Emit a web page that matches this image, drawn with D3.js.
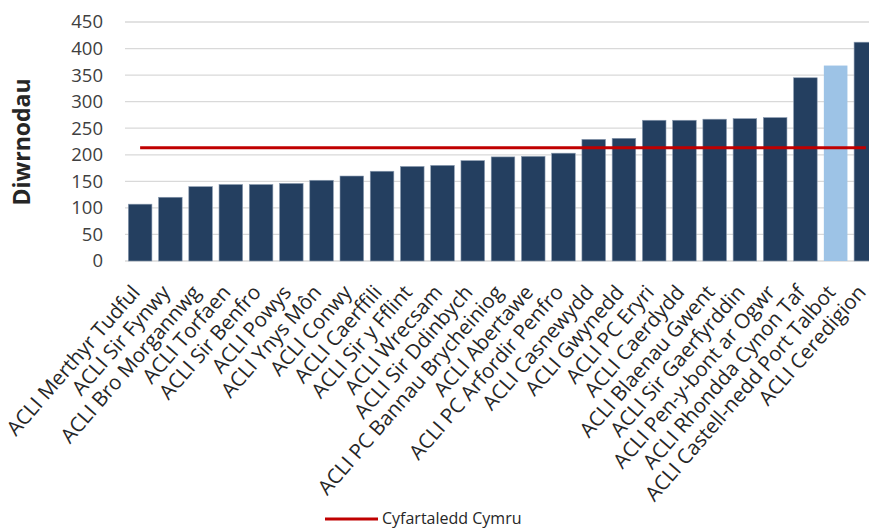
<!DOCTYPE html>
<html>
<head>
<meta charset="utf-8">
<script src="https://cdn.jsdelivr.net/npm/d3@7"></script>
<style>
  body { margin: 0; background: #fff; }
  svg { display: block; font-family: "Open Sans", sans-serif; }
</style>
</head>
<body>
<div id="chart"></div>
<script>
let categories = [
    "ACLI Merthyr Tudful", "ACLI Sir Fynwy", "ACLI Bro Morgannwg", "ACLI Torfaen",
    "ACLI Sir Benfro", "ACLI Powys", "ACLI Ynys Môn", "ACLI Conwy", "ACLI Caerffili",
    "ACLI Sir y Fflint", "ACLI Wrecsam", "ACLI Sir Ddinbych", "ACLI PC Bannau Brycheiniog",
    "ACLI Abertawe", "ACLI PC Arfordir Penfro", "ACLI Casnewydd", "ACLI Gwynedd",
    "ACLI PC Eryri", "ACLI Caerdydd", "ACLI Blaenau Gwent", "ACLI Sir Gaerfyrddin",
    "ACLI Pen-y-bont ar Ogwr", "ACLI Rhondda Cynon Taf", "ACLI Castell-nedd Port Talbot",
    "ACLI Ceredigion"
];
let days = [107, 120, 140, 144, 144, 146, 152, 160, 169, 178, 180, 189, 196, 197, 203,
    229, 231, 265, 265, 267, 268, 270, 345, 368, 412];
let walesAverage = 213;
let highlighted = ["ACLI Castell-nedd Port Talbot"];
let yTicks = [0, 50, 100, 150, 200, 250, 300, 350, 400, 450];

let width = 869, height = 530;
let margin = { top: 22, right: -12, bottom: 269, left: 125 };
let plotW = width - margin.left - margin.right,
    plotH = height - margin.top - margin.bottom;

let svg = d3.select("#chart")
    .append("svg")
    .attr("width", width)
    .attr("height", height);

let g = svg.append("g")
    .attr("transform", "translate(" + margin.left + "," + margin.top + ")");

let x = d3.scaleBand()
    .domain(categories)
    .range([0, plotW])
    .paddingInner(0.22)
    .paddingOuter(0.11);

let y = d3.scaleLinear()
    .domain([0, 450])
    .range([plotH, 0]);

// gridlines
g.selectAll(".grid")
    .data(yTicks)
    .enter()
    .append("line")
    .attr("x1", 0)
    .attr("x2", plotW)
    .attr("y1", d => y(d))
    .attr("y2", d => y(d))
    .attr("stroke", "#d9d9d9")
    .attr("stroke-width", 1.3);

// bars
g.selectAll(".bar")
    .data(categories)
    .enter()
    .append("rect")
    .attr("x", d => x(d))
    .attr("y", (d, i) => y(days[i]))
    .attr("width", x.bandwidth())
    .attr("height", (d, i) => plotH - y(days[i]))
    .attr("fill", d => highlighted.includes(d) ? "#9dc3e6" : "#243f60")
    .attr("stroke", d => highlighted.includes(d) ? "none" : "#8a9bb0")
    .attr("stroke-width", 0.6);

// average line
let avgLine = d3.line()
    .x(d => x(d) + x.bandwidth() / 2)
    .y(() => y(walesAverage));

g.append("path")
    .datum(categories)
    .attr("d", avgLine)
    .attr("fill", "none")
    .attr("stroke", "#c00000")
    .attr("stroke-width", 3);

// y axis labels
let yAxis = g.append("g")
    .call(d3.axisLeft(y).tickValues(yTicks).tickSize(0).tickPadding(22));
yAxis.select(".domain").remove();
yAxis.selectAll("text")
    .attr("font-family", "Open Sans, sans-serif")
    .attr("font-size", "18.5px")
    .attr("fill", "#404040");

// x axis labels
let xAxis = g.append("g")
    .attr("transform", "translate(0," + plotH + ")")
    .call(d3.axisBottom(x).tickSize(0).tickPadding(0));
xAxis.select(".domain").remove();
xAxis.selectAll("text")
    .attr("font-family", "Open Sans, sans-serif")
    .attr("font-size", "20.5px")
    .attr("fill", "#262626")
    .attr("text-anchor", "end")
    .attr("dy", "0")
    .attr("transform", "translate(1,32) rotate(-49)");

// y title
svg.append("text")
    .attr("transform", "translate(30,142) rotate(-90)")
    .attr("text-anchor", "middle")
    .attr("font-size", "23px")
    .attr("font-weight", "bold")
    .attr("fill", "#262626")
    .text("Diwrnodau");

// legend
svg.append("line")
    .attr("x1", 325).attr("x2", 378)
    .attr("y1", 519).attr("y2", 519)
    .attr("stroke", "#c00000")
    .attr("stroke-width", 3);
svg.append("text")
    .attr("x", 382)
    .attr("y", 524)
    .attr("font-size", "16px")
    .attr("fill", "#262626")
    .text("Cyfartaledd Cymru");
</script>
</body>
</html>
